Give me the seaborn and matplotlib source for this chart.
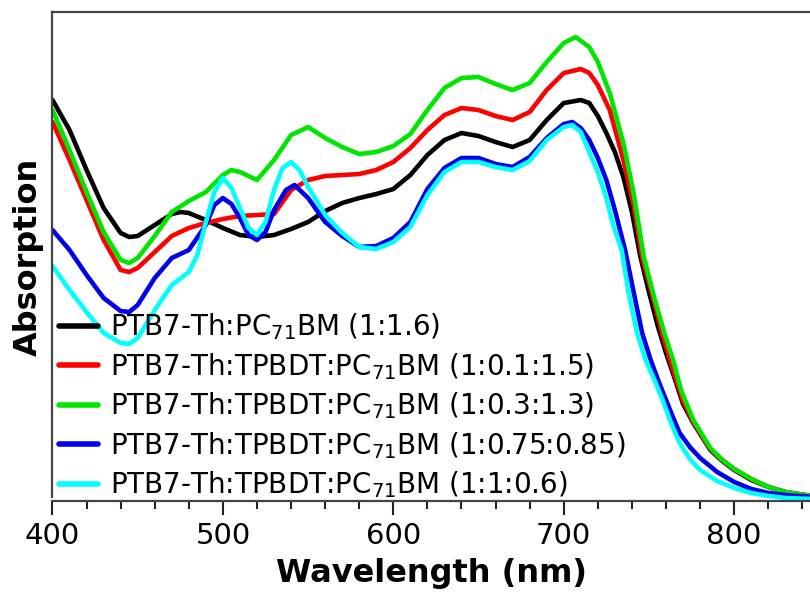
import numpy as np
import pandas as pd
import matplotlib
matplotlib.use("Agg")
import matplotlib.pyplot as plt
import seaborn as sns

labels = [
    r"PTB7-Th:PC$_{71}$BM (1:1.6)",
    r"PTB7-Th:TPBDT:PC$_{71}$BM (1:0.1:1.5)",
    r"PTB7-Th:TPBDT:PC$_{71}$BM (1:0.3:1.3)",
    r"PTB7-Th:TPBDT:PC$_{71}$BM (1:0.75:0.85)",
    r"PTB7-Th:TPBDT:PC$_{71}$BM (1:1:0.6)",
]
colors = ["#000000", "#ff0000", "#00e600", "#0000ee", "#00ffff"]

bk_wl = [400,410,420,430,440,445,450,460,470,475,480,490,500,510,520,530,540,550,560,570,580,590,600,610,620,630,640,650,660,670,680,690,700,710,715,720,725,730,735,740,745,750,755,760,765,770,776,786,793,800,810,820,830,845]
bk = [3.97,3.67,3.27,2.89,2.64,2.60,2.61,2.72,2.83,2.85,2.84,2.77,2.69,2.62,2.60,2.62,2.68,2.75,2.86,2.94,2.99,3.03,3.08,3.22,3.42,3.57,3.64,3.61,3.55,3.50,3.57,3.77,3.94,3.97,3.94,3.81,3.64,3.45,3.20,2.85,2.40,2.05,1.72,1.44,1.19,0.93,0.74,0.47,0.36,0.27,0.17,0.10,0.05,0.01]

rd_wl = [400,410,420,430,440,445,450,460,470,480,490,500,510,520,530,535,540,550,560,570,580,590,600,610,620,630,640,650,660,670,680,690,700,710,715,720,727,735,741,746,752,758,764,770,776,786,793,800,810,820,830,845]
rd = [3.75,3.37,2.97,2.57,2.27,2.25,2.29,2.45,2.61,2.69,2.74,2.78,2.81,2.82,2.83,2.95,3.07,3.17,3.21,3.22,3.23,3.27,3.35,3.49,3.67,3.82,3.89,3.87,3.81,3.77,3.85,4.07,4.24,4.28,4.24,4.12,3.87,3.37,2.92,2.40,2.02,1.62,1.28,0.96,0.75,0.48,0.37,0.28,0.18,0.10,0.05,0.01]

gr_wl = [400,410,420,430,440,445,450,460,470,480,490,500,505,510,520,530,540,550,560,570,580,590,600,610,620,630,640,650,660,670,680,690,700,707,715,720,727,735,741,747,753,759,764,769,776,786,793,800,810,820,830,845]
gr = [3.87,3.47,3.05,2.65,2.37,2.34,2.39,2.61,2.85,2.96,3.05,3.22,3.27,3.25,3.17,3.37,3.62,3.70,3.59,3.50,3.43,3.45,3.51,3.63,3.87,4.09,4.19,4.20,4.13,4.07,4.14,4.35,4.54,4.60,4.50,4.35,4.04,3.54,3.04,2.40,2.00,1.64,1.38,1.06,0.77,0.49,0.37,0.28,0.18,0.10,0.05,0.01]

bl_wl = [400,410,420,430,440,445,450,460,470,480,490,495,500,505,510,515,520,525,530,537,542,550,560,570,580,590,600,610,620,630,640,650,660,670,680,690,700,705,710,715,720,725,730,736,741,746,751,756,760,764,768,774,780,790,800,810,820,830,845]
bl = [2.67,2.47,2.22,1.99,1.86,1.85,1.92,2.19,2.39,2.47,2.72,2.92,2.99,2.93,2.79,2.62,2.57,2.65,2.87,3.07,3.12,2.99,2.75,2.61,2.50,2.51,2.59,2.75,3.08,3.29,3.39,3.39,3.33,3.30,3.40,3.59,3.73,3.75,3.69,3.57,3.39,3.17,2.87,2.47,2.05,1.64,1.37,1.14,0.97,0.80,0.64,0.50,0.39,0.25,0.15,0.08,0.04,0.02,0.00]

cy_wl = [400,410,420,430,440,445,450,460,470,480,485,490,495,500,505,510,515,520,525,530,535,540,545,550,560,570,580,590,600,610,620,630,640,650,660,670,680,690,700,705,710,715,720,725,729,734,738,743,748,754,758,763,768,774,780,790,800,810,820,830,845]
cy = [2.31,2.07,1.85,1.64,1.54,1.53,1.59,1.87,2.12,2.25,2.42,2.75,3.05,3.19,3.09,2.89,2.69,2.62,2.75,3.07,3.29,3.35,3.27,3.10,2.82,2.64,2.50,2.48,2.55,2.70,3.02,3.25,3.35,3.35,3.30,3.27,3.36,3.57,3.70,3.72,3.65,3.45,3.25,2.99,2.72,2.47,2.05,1.64,1.37,1.14,0.97,0.74,0.54,0.38,0.27,0.16,0.09,0.04,0.01,-0.01,-0.02]

series = [(bk_wl, bk), (rd_wl, rd), (gr_wl, gr), (bl_wl, bl), (cy_wl, cy)]
frames = []
for lab, (w, v) in zip(labels, series):
    frames.append(pd.DataFrame({"wl": w, "abs": v, "sample": lab}))
df = pd.concat(frames, ignore_index=True)

sns.set_theme(style="white")
plt.rcParams["font.family"] = ["DejaVu Sans"]
plt.rcParams["mathtext.fontset"] = "dejavusans"
plt.rcParams["text.color"] = "black"
plt.rcParams["axes.labelcolor"] = "black"
plt.rcParams["xtick.color"] = "black"

fig = plt.figure(figsize=(8.1, 6.02), dpi=100)
ax = fig.add_axes([0.0648, 0.167, 0.9352, 0.813])

sns.lineplot(data=df, x="wl", y="abs", hue="sample", hue_order=labels,
             palette=colors, linewidth=3.3, estimator=None, sort=True, ax=ax)

ax.set_xlim(400, 844.5)
ax.set_ylim(-0.045, 4.85)
ax.set_yticks([])
ax.set_xticks([400, 500, 600, 700, 800])
ax.set_xticks(np.arange(420, 845, 20), minor=True)
ax.tick_params(axis="x", which="major", direction="out", length=10, width=1.5,
               labelsize=21, pad=5, color="#222222", labelcolor="black", bottom=True)
ax.tick_params(axis="x", which="minor", direction="out", length=6, width=1.5,
               color="#222222", bottom=True)
for s in ["left", "bottom", "top"]:
    ax.spines[s].set_color("#444444")
    ax.spines[s].set_linewidth(1.6)
ax.spines["right"].set_visible(False)
ax.spines["left"].set_bounds(0, 4.85)

ax.set_xlabel("Wavelength (nm)", fontsize=23, fontweight="bold", labelpad=5.5,
              color="black")
ax.set_ylabel("Absorption", fontsize=23, fontweight="bold", labelpad=6,
              color="black")

leg = ax.legend(loc="lower left", bbox_to_anchor=(0.0066, 0.0), frameon=False,
                fontsize=20, handlelength=1.4, handletextpad=0.45,
                labelspacing=0.31, borderaxespad=0.0, borderpad=0.05)
for line in leg.get_lines():
    line.set_linewidth(4)
for t in leg.get_texts():
    t.set_color("black")

fig.savefig("out.png", dpi=100)
